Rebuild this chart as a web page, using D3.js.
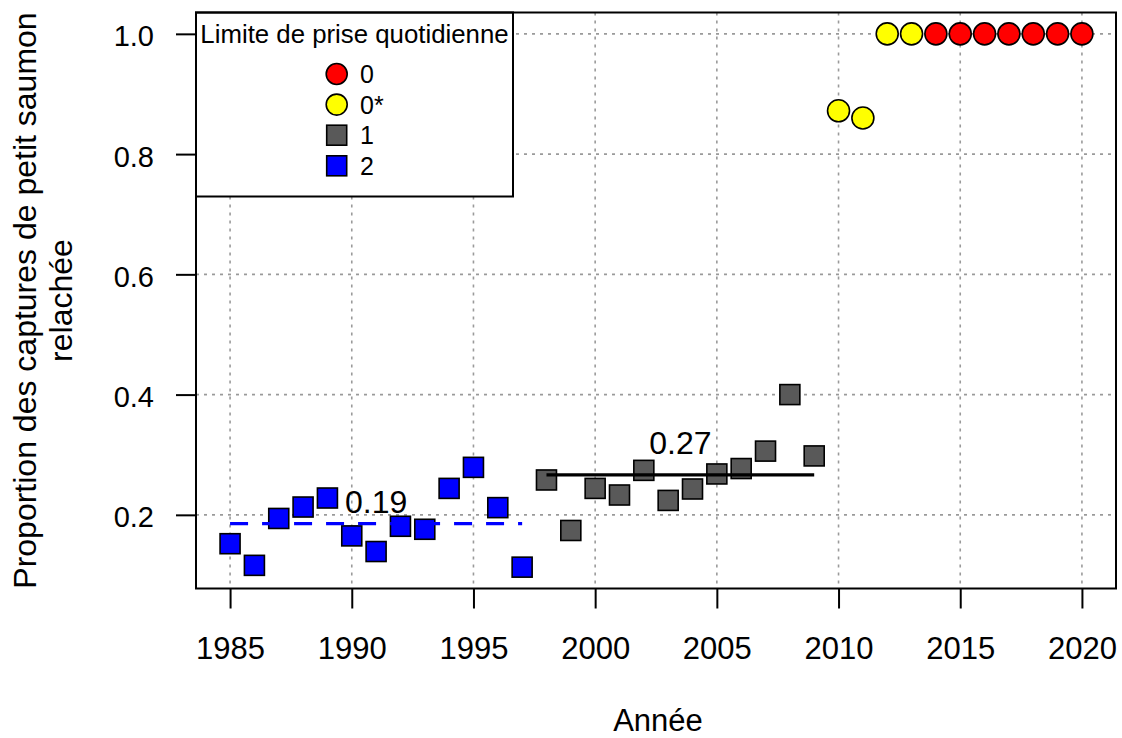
<!DOCTYPE html>
<html>
<head>
<meta charset="utf-8">
<script src="https://cdn.jsdelivr.net/npm/d3@7"></script>
<style>
  html, body { margin: 0; padding: 0; background: #ffffff; }
  svg { display: block; }
  text { font-family: "Liberation Sans", Arial, sans-serif; fill: #000; }
</style>
</head>
<body>
<svg id="chart" width="1122" height="738"></svg>
<script>
// Daily bag limit 2 (1985-1997)
const yearsLimit2  = [1985, 1986, 1987, 1988, 1989, 1990, 1991, 1992, 1993, 1994, 1995, 1996, 1997];
const valuesLimit2 = [0.152, 0.116, 0.194, 0.213, 0.228, 0.165, 0.139, 0.181, 0.176, 0.244, 0.279, 0.212, 0.113];

// Daily bag limit 1 (1998-2009)
const yearsLimit1  = [1998, 1999, 2000, 2001, 2002, 2003, 2004, 2005, 2006, 2007, 2008, 2009];
const valuesLimit1 = [0.258, 0.174, 0.244, 0.233, 0.274, 0.224, 0.243, 0.268, 0.277, 0.306, 0.400, 0.298];

// Daily bag limit 0* (2010-2013)
const yearsLimit0s  = [2010, 2011, 2012, 2013];
const valuesLimit0s = [0.872, 0.860, 1.0, 1.0];

// Daily bag limit 0 (2014-2020)
const yearsLimit0  = [2014, 2015, 2016, 2017, 2018, 2019, 2020];
const valuesLimit0 = [1.0, 1.0, 1.0, 1.0, 1.0, 1.0, 1.0];

const legendLabels = ["0", "0*", "1", "2"];
const legendTitle = "Limite de prise quotidienne";
const xTicks = [1985, 1990, 1995, 2000, 2005, 2010, 2015, 2020];
const yTicks = [0.2, 0.4, 0.6, 0.8, 1.0];
const xTitle = "Année";
const yTitleLines = ["Proportion des captures de petit saumon", "relachée"];

const svg = d3.select("#chart");

const plotL = 196, plotR = 1116, plotT = 12.5, plotB = 588.5;
const x = d3.scaleLinear().domain([1983.6, 2021.4]).range([plotL, plotR]);
const y = d3.scaleLinear().domain([0.0775, 1.0355]).range([plotB, plotT]);

const COL_RED = "#ff0000", COL_YEL = "#ffff00", COL_GREY = "#595959", COL_BLUE = "#0000ff";

// grid
const grid = svg.append("g").attr("stroke", "#9a9a9a").attr("stroke-width", 1.6)
  .attr("stroke-dasharray", "3,5");
grid.selectAll("line.v").data(xTicks).join("line").attr("class", "v")
  .attr("x1", d => x(d)).attr("x2", d => x(d)).attr("y1", plotT).attr("y2", plotB);
grid.selectAll("line.h").data(yTicks).join("line").attr("class", "h")
  .attr("x1", plotL).attr("x2", plotR).attr("y1", d => y(d)).attr("y2", d => y(d));

// axes
const xAxis = d3.axisBottom(x).tickValues(xTicks).tickSize(20).tickSizeOuter(0).tickFormat(d3.format("d"));
const gx = svg.append("g").attr("transform", `translate(0,${plotB})`).call(xAxis);
gx.select(".domain").remove();
gx.selectAll(".tick line").attr("stroke", "#000").attr("stroke-width", 2);
gx.selectAll(".tick text").attr("font-size", 31).attr("dy", null).attr("y", 70.5)
  .attr("font-family", '"Liberation Sans", Arial, sans-serif').attr("fill", "#000");

const yAxis = d3.axisLeft(y).tickValues(yTicks).tickSize(20).tickSizeOuter(0).tickFormat(d3.format(".1f"));
const gy = svg.append("g").attr("transform", `translate(${plotL},0)`).call(yAxis);
gy.select(".domain").remove();
gy.selectAll(".tick line").attr("stroke", "#000").attr("stroke-width", 2);
gy.selectAll(".tick text").attr("font-size", 29).attr("dy", "12").attr("x", -42)
  .attr("font-family", '"Liberation Sans", Arial, sans-serif').attr("fill", "#000");

// legend box (drawn over the grid)
const lg = svg.append("g");
lg.append("rect").attr("x", plotL).attr("y", plotT).attr("width", 317).attr("height", 184)
  .attr("fill", "#fff").attr("stroke", "#000").attr("stroke-width", 2);
lg.append("text").attr("x", plotL + 158.5).attr("y", plotT + 30.5).attr("text-anchor", "middle")
  .attr("font-size", 25.8).text(legendTitle);
const legendStyles = [
  {shape: "circle", fill: COL_RED},
  {shape: "circle", fill: COL_YEL},
  {shape: "square", fill: COL_GREY},
  {shape: "square", fill: COL_BLUE}
];
legendLabels.forEach((lab, i) => {
  const cy = plotT + 61.5 + i * 30.6, cx = 336.7;
  const st = legendStyles[i];
  if (st.shape === "circle") {
    lg.append("circle").attr("cx", cx).attr("cy", cy).attr("r", 10.5)
      .attr("fill", st.fill).attr("stroke", "#000").attr("stroke-width", 1.6);
  } else {
    lg.append("rect").attr("x", cx - 10).attr("y", cy - 10).attr("width", 20).attr("height", 20)
      .attr("fill", st.fill).attr("stroke", "#000").attr("stroke-width", 1.6);
  }
  lg.append("text").attr("x", 360).attr("y", cy + 9).attr("font-size", 25).text(lab);
});

// points
function squares(years, vals, fill) {
  svg.append("g").selectAll("rect").data(years.map((d, i) => [d, vals[i]])).join("rect")
    .attr("x", d => x(d[0]) - 10).attr("y", d => y(d[1]) - 10)
    .attr("width", 20).attr("height", 20)
    .attr("fill", fill).attr("stroke", "#000").attr("stroke-width", 1.6);
}
function circles(years, vals, fill) {
  svg.append("g").selectAll("circle").data(years.map((d, i) => [d, vals[i]])).join("circle")
    .attr("cx", d => x(d[0])).attr("cy", d => y(d[1])).attr("r", 11)
    .attr("fill", fill).attr("stroke", "#000").attr("stroke-width", 1.6);
}
squares(yearsLimit2, valuesLimit2, COL_BLUE);
squares(yearsLimit1, valuesLimit1, COL_GREY);
circles(yearsLimit0s, valuesLimit0s, COL_YEL);
circles(yearsLimit0, valuesLimit0, COL_RED);

// period means with labels
const fmt = d3.format(".2f");
const periods = [
  {years: yearsLimit2, vals: valuesLimit2, color: "#0000ff", dash: "18,14", labelLift: 11},
  {years: yearsLimit1, vals: valuesLimit1, color: "#000000", dash: null, labelLift: 21}
];
periods.forEach(p => {
  const m = d3.mean(p.vals);
  const x0 = d3.min(p.years), x1 = d3.max(p.years);
  svg.append("line").attr("x1", x(x0)).attr("x2", x(x1)).attr("y1", y(m)).attr("y2", y(m))
    .attr("stroke", p.color).attr("stroke-width", 3.3)
    .attr("stroke-dasharray", p.dash);
  svg.append("text").attr("x", x((x0 + x1) / 2)).attr("y", y(m) - p.labelLift)
    .attr("text-anchor", "middle").attr("font-size", 32).text(fmt(m));
});

// plot frame
svg.append("rect").attr("x", plotL).attr("y", plotT).attr("width", plotR - plotL).attr("height", plotB - plotT)
  .attr("fill", "none").attr("stroke", "#000").attr("stroke-width", 2);

// axis titles
svg.append("text").attr("x", (plotL + plotR) / 2 + 2).attr("y", 731).attr("text-anchor", "middle")
  .attr("font-size", 31).text(xTitle);
const yt = svg.append("text").attr("transform", `translate(0,${(plotT + plotB) / 2}) rotate(-90)`)
  .attr("text-anchor", "middle").attr("font-size", 32);
yTitleLines.forEach((t, i) => {
  yt.append("tspan").attr("x", 0).attr("y", 36 + i * 36).text(t);
});
</script>
</body>
</html>
